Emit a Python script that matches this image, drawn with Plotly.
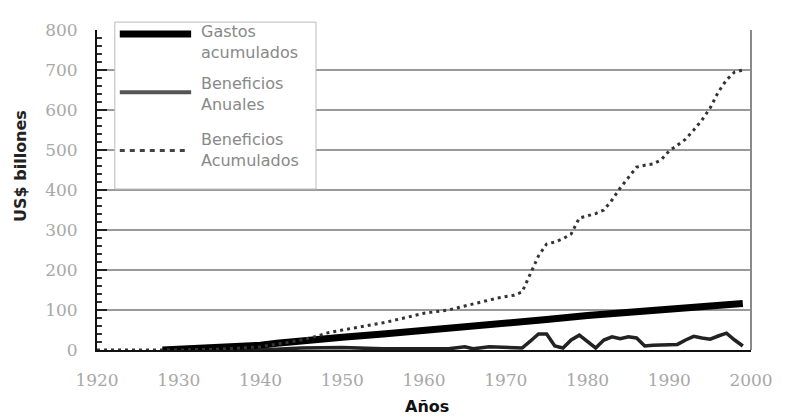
import plotly.graph_objects as go

# ---- data ----
gastos_years = [1928, 1930, 1935, 1940, 1942, 1945, 1950, 1955, 1960, 1965, 1970,
                1975, 1980, 1985, 1990, 1995, 1999]
gastos_vals = [0, 2, 5, 12, 17, 24, 32, 40, 48, 57, 66, 76, 86, 95, 103, 110, 116]

anual_years = [1928, 1940, 1945, 1950, 1955, 1960, 1963, 1965, 1966, 1968, 1970, 1972,
               1973, 1974, 1975, 1976, 1977, 1978, 1979, 1980, 1981, 1982, 1983, 1984,
               1985, 1986, 1987, 1988, 1989, 1990, 1991, 1992, 1993, 1994, 1995, 1996,
               1997, 1998, 1999]
anual_vals = [0, 0, 5, 6, 3, 2, 3, 8, 3, 8, 6, 5,
              22, 40, 40, 10, 5, 25, 37, 20, 5, 25, 33, 28,
              33, 30, 10, 12, 13, 12, 14, 25, 34, 30, 27, 35,
              42, 25, 10]

acum_years = [1920, 1930, 1935, 1940, 1943, 1945, 1947, 1948, 1950, 1953, 1955, 1958,
              1960, 1963, 1965, 1967, 1969, 1971, 1972, 1973, 1974, 1975, 1976, 1977,
              1978, 1979, 1980, 1981, 1982, 1983, 1984, 1985, 1986, 1987, 1988, 1989,
              1990, 1991, 1992, 1993, 1994, 1995, 1996, 1997, 1998, 1999]
acum_vals = [0, 0, 2, 8, 18, 25, 35, 42, 50, 60, 68, 82,
             92, 100, 110, 120, 130, 137, 145, 190, 235, 265, 270, 278,
             290, 330, 335, 341, 350, 375, 405, 430, 457, 462, 465, 475,
             498, 512, 527, 550, 575, 605, 645, 675, 695, 700]

x_ticks = [1920, 1930, 1940, 1950, 1960, 1970, 1980, 1990, 2000]
y_ticks = [0, 100, 200, 300, 400, 500, 600, 700, 800]

legend_labels = ["Gastos<br>acumulados", "Beneficios<br>Anuales", "Beneficios<br>Acumulados"]

# ---- layout geometry (page pixels; the page body has an 8px margin) ----
OFF = 8
W, H = 785 - OFF, 419 - OFF
L, R, T, B = 97, 757, 26, 350


def px(x):
    return (x - L) / (R - L)


def py(y):
    return (B - y) / (B - T)


fig = go.Figure()
fig.add_trace(go.Scatter(x=anual_years, y=anual_vals, mode="lines",
                         line=dict(color="#222222", width=3.5), showlegend=False))
fig.add_trace(go.Scatter(x=gastos_years, y=gastos_vals, mode="lines",
                         line=dict(color="#000000", width=7), showlegend=False))
fig.add_trace(go.Scatter(x=acum_years, y=acum_vals, mode="lines",
                         line=dict(color="#333333", width=3, dash="3px,4px"),
                         showlegend=False))

shapes = [
    # right border
    dict(type="line", xref="paper", yref="paper", x0=1, x1=1, y0=0, y1=1,
         line=dict(color="#8a8a8a", width=2)),
    # legend box
    dict(type="rect", xref="paper", yref="paper", x0=px(115), x1=px(318),
         y0=py(187), y1=py(18), fillcolor="white", line=dict(color="#bbbbbb", width=1),
         layer="above"),
    dict(type="line", xref="paper", yref="paper", x0=px(120), x1=px(192),
         y0=py(30), y1=py(30), line=dict(color="#000000", width=7), layer="above"),
    dict(type="line", xref="paper", yref="paper", x0=px(120), x1=px(192),
         y0=py(89), y1=py(89), line=dict(color="#555555", width=4), layer="above"),
    dict(type="line", xref="paper", yref="paper", x0=px(120), x1=px(187),
         y0=py(148), y1=py(148), line=dict(color="#444444", width=3, dash="5px,5px"),
         layer="above"),
]

annotations = []
for lab, yc in zip(legend_labels, [38, 91, 147]):
    annotations.append(dict(text=lab, xref="paper", yref="paper", x=px(200), y=py(yc),
                            xanchor="left", yanchor="middle", align="left", showarrow=False,
                            font=dict(family="DejaVu Sans", size=16, color="#888888")))
annotations.append(dict(text="<b>US$ billones</b>", xref="paper", yref="paper",
                        x=px(20), y=py(164), textangle=-90, showarrow=False,
                        xanchor="center", yanchor="middle",
                        font=dict(family="DejaVu Sans", size=16, color="#222222")))
annotations.append(dict(text="<b>Años</b>", xref="paper", yref="paper",
                        x=px(430), y=py(407), showarrow=False,
                        xanchor="center", yanchor="middle",
                        font=dict(family="DejaVu Sans", size=16, color="#111111")))

fig.update_layout(
    width=W, height=H,
    margin=dict(l=L - OFF, r=785 - R, t=T - OFF, b=419 - B),
    paper_bgcolor="white", plot_bgcolor="white",
    shapes=shapes, annotations=annotations,
    xaxis=dict(range=[1920, 2000], tickvals=x_ticks, ticktext=[str(v) for v in x_ticks],
               showgrid=False, zeroline=False, showline=True, linecolor="#111111",
               linewidth=2, ticks="", ticklabelstandoff=14,
               tickfont=dict(family="DejaVu Serif", size=17, color="#a8a8a8")),
    yaxis=dict(range=[0, 800], tickvals=y_ticks, ticktext=[str(v) for v in y_ticks],
               showgrid=True, gridcolor="#9a9a9a", gridwidth=2, zeroline=False,
               showline=True, linecolor="#111111", linewidth=2,
               ticks="inside", ticklen=10, tickwidth=2, tickcolor="#222222",
               minor=dict(dtick=20, ticks="inside", ticklen=5, tickwidth=1.5,
                          tickcolor="#333333", showgrid=False),
               ticklabelstandoff=14,
               tickfont=dict(family="DejaVu Serif", size=17, color="#a8a8a8")),
)

fig.write_html("out.html")
